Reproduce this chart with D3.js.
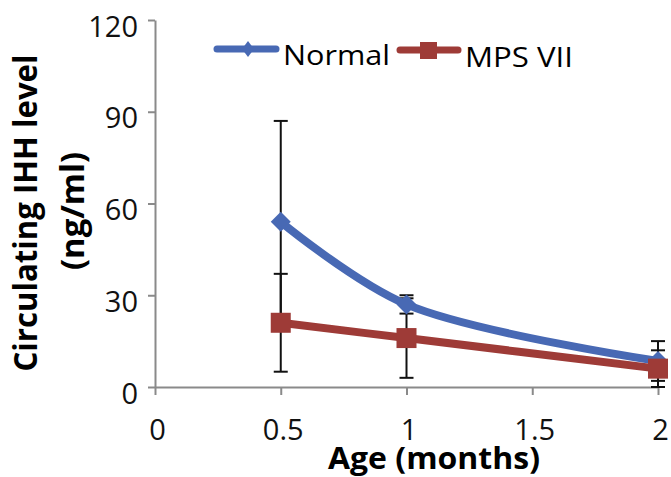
<!DOCTYPE html>
<html>
<head>
<meta charset="utf-8">
<script src="https://cdn.jsdelivr.net/npm/d3@7/dist/d3.min.js"></script>
<style>
  body { margin: 0; background: #fff; }
  svg { display: block; font-family: "Open Sans", "DejaVu Sans", sans-serif; }
</style>
</head>
<body>
<svg width="671" height="477"></svg>
<script>
// data
var ageMonths = [0.5, 1, 2];
var normalMean = [54, 27, 8.5];
var normalErr = [33, 3, 6.5];
var mpsMean = [21, 16, 6];
var mpsErr = [16, 13, 6];
var xTicks = [0, 0.5, 1, 1.5, 2];
var yTicks = [0, 30, 60, 90, 120];
var seriesNames = ["Normal", "MPS VII"];

var blue = "#4869b4", red = "#9e3b37", axisGray = "#8a8a8a";

var svg = d3.select("svg");

var x = d3.scaleLinear().domain([0, 2]).range([155, 658]);
var y = d3.scaleLinear().domain([0, 120]).range([387, 20]);

/* axes */
var yAxis = svg.append("g")
	.attr("transform", "translate(155,0)")
	.call(d3.axisLeft(y).tickValues(yTicks).tickSize(7).tickSizeOuter(0).tickFormat(d3.format("d")));
var xAxis = svg.append("g")
	.attr("transform", "translate(0,387)")
	.call(d3.axisBottom(x).tickValues(xTicks).tickSize(8).tickSizeOuter(0).tickFormat(function(d) { return String(d); }));

[yAxis, xAxis].forEach(function(g) {
	g.select(".domain").attr("stroke", axisGray).attr("stroke-width", 2);
	g.selectAll(".tick line").attr("stroke", axisGray).attr("stroke-width", 2);
	g.selectAll("text").attr("fill", "#111").attr("font-family", "Open Sans");
});
yAxis.selectAll("text")
	.attr("x", -17).attr("dy", null).attr("y", 16)
	.attr("font-size", 29);
xAxis.selectAll("text")
	.attr("x", 2).attr("dy", null).attr("y", 53)
	.attr("font-size", 29);

/* axis titles */
svg.append("text")
	.attr("transform", "translate(37,213) rotate(-90)")
	.attr("text-anchor", "middle")
	.attr("font-weight", "bold").attr("font-size", 32)
	.attr("textLength", 317).attr("lengthAdjust", "spacingAndGlyphs")
	.text("Circulating IHH level");
svg.append("text")
	.attr("transform", "translate(84,211) rotate(-90)")
	.attr("text-anchor", "middle")
	.attr("font-weight", "bold").attr("font-size", 32)
	.attr("textLength", 118).attr("lengthAdjust", "spacingAndGlyphs")
	.text("(ng/ml)");
svg.append("text")
	.attr("x", 434).attr("y", 469)
	.attr("text-anchor", "middle")
	.attr("font-weight", "bold").attr("font-size", 30)
	.attr("textLength", 212).attr("lengthAdjust", "spacingAndGlyphs")
	.text("Age (months)");

/* error bars (under the lines) */
var bars = [];
ageMonths.forEach(function(a, i) {
	bars.push([a, normalMean[i], normalErr[i]]);
	bars.push([a, mpsMean[i], mpsErr[i]]);
});
var eb = svg.append("g").attr("stroke", "#111").attr("stroke-width", 2);
eb.selectAll(".v").data(bars).enter().append("line")
	.attr("x1", function(d) { return x(d[0]); })
	.attr("x2", function(d) { return x(d[0]); })
	.attr("y1", function(d) { return y(d[1] + d[2]); })
	.attr("y2", function(d) { return y(d[1] - d[2]); });
[1, -1].forEach(function(s) {
	eb.selectAll(".c" + s).data(bars).enter().append("line")
		.attr("x1", function(d) { return x(d[0]) - 7; })
		.attr("x2", function(d) { return x(d[0]) + 7; })
		.attr("y1", function(d) { return y(d[1] + s * d[2]); })
		.attr("y2", function(d) { return y(d[1] + s * d[2]); });
});

/* lines */
var line = d3.line()
	.x(function(d) { return x(d[0]); })
	.y(function(d) { return y(d[1]); })
	.curve(d3.curveCatmullRom);
var normalPts = ageMonths.map(function(a, i) { return [a, normalMean[i]]; });
var mpsPts = ageMonths.map(function(a, i) { return [a, mpsMean[i]]; });

svg.append("path").datum(normalPts)
	.attr("d", line).attr("fill", "none")
	.attr("stroke", blue).attr("stroke-width", 8).attr("stroke-linecap", "round");
svg.selectAll(".dia").data(normalPts).enter().append("path")
	.attr("transform", function(d) { return "translate(" + x(d[0]) + "," + y(d[1]) + ")"; })
	.attr("d", "M0,-10L10,0L0,10L-10,0Z")
	.attr("fill", blue);

svg.append("path").datum(mpsPts)
	.attr("d", line).attr("fill", "none")
	.attr("stroke", red).attr("stroke-width", 8).attr("stroke-linecap", "round");
svg.selectAll(".sq").data(mpsPts).enter().append("rect")
	.attr("x", function(d) { return x(d[0]) - 10; })
	.attr("y", function(d) { return y(d[1]) - 10; })
	.attr("width", 20).attr("height", 20)
	.attr("fill", red);

/* legend */
var lg = svg.append("g");
lg.append("line").attr("x1", 217).attr("x2", 276).attr("y1", 49).attr("y2", 49)
	.attr("stroke", blue).attr("stroke-width", 7).attr("stroke-linecap", "round");
lg.append("path").attr("transform", "translate(248,49)")
	.attr("d", "M0,-8L6,0L0,8L-6,0Z").attr("fill", blue);
lg.append("text").attr("x", 283).attr("y", 65)
	.attr("font-size", 28).attr("textLength", 107).attr("lengthAdjust", "spacingAndGlyphs")
	.text(seriesNames[0]);
lg.append("line").attr("x1", 400).attr("x2", 458).attr("y1", 50).attr("y2", 50)
	.attr("stroke", red).attr("stroke-width", 7).attr("stroke-linecap", "round");
lg.append("rect").attr("x", 420).attr("y", 42).attr("width", 17).attr("height", 17)
	.attr("fill", red);
lg.append("text").attr("x", 465).attr("y", 67)
	.attr("font-size", 28).attr("textLength", 108).attr("lengthAdjust", "spacingAndGlyphs")
	.text(seriesNames[1]);
</script>
</body>
</html>
